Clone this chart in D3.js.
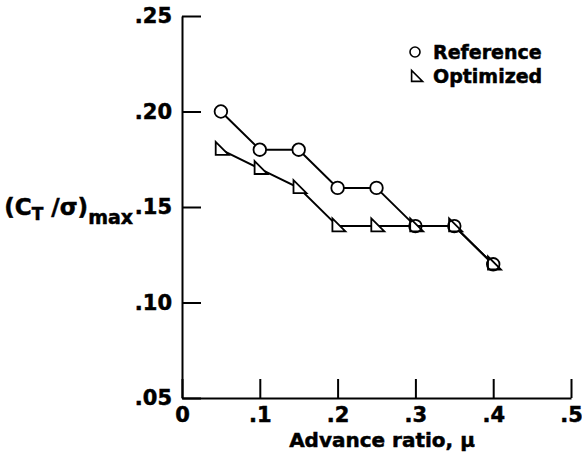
<!DOCTYPE html>
<html>
<head>
<meta charset="utf-8">
<script src="https://d3js.org/d3.v7.min.js"></script>
<style>
  html, body { margin: 0; padding: 0; background: #fff; }
  svg { display: block; }
  text { font-family: "DejaVu Sans", sans-serif; font-weight: bold; fill: #000; stroke: #000; stroke-width: 0.5px; }
</style>
</head>
<body>
<svg id="chart" width="582" height="462"></svg>
<script>
// Advance ratio values (x) and maximum blade loading for each rotor design
const advanceRatio = [0.05, 0.10, 0.15, 0.20, 0.25, 0.30, 0.35, 0.40];
const referenceCT  = [0.20, 0.18, 0.18, 0.16, 0.16, 0.14, 0.14, 0.12];
const optimizedCT  = [0.18, 0.17, 0.16, 0.14, 0.14, 0.14, 0.14, 0.12];

const xTicks = [0, 0.1, 0.2, 0.3, 0.4, 0.5];
const yTicks = [0.05, 0.10, 0.15, 0.20, 0.25];
const seriesNames = ["Reference", "Optimized"];

const svg = d3.select("#chart");

const x = d3.scaleLinear().domain([0, 0.5]).range([182, 571]);
const y = d3.scaleLinear().domain([0.05, 0.25]).range([398, 16]);

const fmtY = d => d3.format(".2f")(d).replace(/^0/, "");
const fmtX = d => d === 0 ? "0" : d3.format(".1f")(d).replace(/^0/, "");

// Axes: ticks point into the plot area
const yAxis = d3.axisLeft(y)
  .tickValues(yTicks)
  .tickFormat(fmtY)
  .tickSizeInner(-19)
  .tickSizeOuter(0)
  .tickPadding(10);

const xAxis = d3.axisBottom(x)
  .tickValues(xTicks)
  .tickFormat(fmtX)
  .tickSizeInner(-19)
  .tickSizeOuter(0)
  .tickPadding(9);

const gy = svg.append("g").attr("transform", `translate(${x(0)},0)`).call(yAxis);
const gx = svg.append("g").attr("transform", `translate(0,${y(0.05)})`).call(xAxis);

[gx, gy].forEach(g => {
  g.select(".domain").attr("stroke", "#000").attr("stroke-width", 2);
  g.selectAll(".tick line").attr("stroke", "#000").attr("stroke-width", 2);
  g.selectAll(".tick text")
    .attr("font-family", "DejaVu Sans, sans-serif")
    .attr("font-weight", "bold")
    .attr("font-size", 21)
    .attr("fill", "#000");
});

// X axis title
svg.append("text")
  .attr("x", 382)
  .attr("y", 447)
  .attr("text-anchor", "middle")
  .attr("font-size", 20)
  .text("Advance ratio, \u03bc");

// Y axis title with subscripts
const yt = svg.append("text")
  .attr("x", 133)
  .attr("y", 215)
  .attr("text-anchor", "end")
  .attr("font-size", 23);
yt.append("tspan").text("(C");
yt.append("tspan").attr("font-size", 17).attr("dy", 5).text("T");
yt.append("tspan").attr("dy", -5).text(" /\u03c3)");
yt.append("tspan").attr("font-size", 19).attr("dy", 9).text("max");

// Series lines
const line = d3.line().x((d, i) => x(advanceRatio[i])).y(d => y(d));

svg.append("path")
  .datum(optimizedCT)
  .attr("d", line)
  .attr("fill", "none")
  .attr("stroke", "#000")
  .attr("stroke-width", 2);

svg.append("path")
  .datum(referenceCT)
  .attr("d", line)
  .attr("fill", "none")
  .attr("stroke", "#000")
  .attr("stroke-width", 2);

// Right-angle triangle marker centred near its centroid
const triPath = s => `M${-0.4*s},${-0.6*s}L${-0.4*s},${0.4*s}L${0.6*s},${0.4*s}Z`;

svg.append("g").selectAll("path")
  .data(optimizedCT)
  .join("path")
  .attr("transform", (d, i) => `translate(${x(advanceRatio[i])},${y(d)})`)
  .attr("d", triPath(13))
  .attr("fill", "#fff")
  .attr("stroke", "#000")
  .attr("stroke-width", 1.8);

svg.append("g").selectAll("circle")
  .data(referenceCT)
  .join("circle")
  .attr("cx", (d, i) => x(advanceRatio[i]))
  .attr("cy", d => y(d))
  .attr("r", 6.3)
  .attr("fill", (d, i) => optimizedCT[i] === d ? "none" : "#fff")
  .attr("stroke", "#000")
  .attr("stroke-width", 1.8);

// Legend
const legend = svg.append("g");
legend.append("circle")
  .attr("cx", 415).attr("cy", 52).attr("r", 5)
  .attr("fill", "#fff").attr("stroke", "#000").attr("stroke-width", 1.6);
legend.append("text").attr("x", 433).attr("y", 59).attr("font-size", 19).text(seriesNames[0]);
legend.append("path")
  .attr("transform", "translate(416,77)")
  .attr("d", triPath(11))
  .attr("fill", "#fff").attr("stroke", "#000").attr("stroke-width", 1.6);
legend.append("text").attr("x", 433).attr("y", 83).attr("font-size", 19).text(seriesNames[1]);
</script>
</body>
</html>
